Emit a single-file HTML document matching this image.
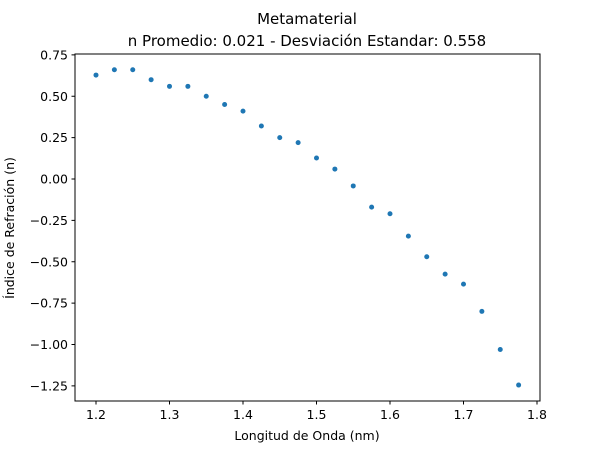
<!DOCTYPE html>
<html><head><meta charset="utf-8"><style>
body{margin:0;background:#fff;}
svg{display:block;font-family:"DejaVu Sans","Liberation Sans",sans-serif;}
</style></head><body>
<svg id="chart" width="600" height="450">
<text x="307" y="24" font-size="15" text-anchor="middle">Metamaterial</text>
<text x="307" y="46" font-size="15" text-anchor="middle">n Promedio: 0.021 - Desviación Estandar: 0.558</text>
<g id="xt"></g>
<g id="yt"></g>
<g id="pts"></g>
<rect x="75" y="54" width="465" height="347" fill="none" stroke="#000" stroke-width="1"/>
<text x="307" y="440" font-size="12.5" text-anchor="middle">Longitud de Onda (nm)</text>
<text transform="translate(14,228) rotate(-90)" font-size="12.5" text-anchor="middle">Índice de Refración (n)</text>
</svg>
<script>
const xs=[1.2,1.225,1.25,1.275,1.3,1.325,1.35,1.375,1.4,1.425,1.45,1.475,1.5,1.525,1.55,1.575,1.6,1.625,1.65,1.675,1.7,1.725,1.75,1.775];
const ys=[0.628,0.66,0.66,0.60,0.56,0.56,0.50,0.45,0.41,0.32,0.25,0.22,0.127,0.06,-0.042,-0.17,-0.21,-0.345,-0.47,-0.575,-0.635,-0.80,-1.03,-1.245];
const xTicks=[1.2,1.3,1.4,1.5,1.6,1.7,1.8];
const xTickLabels=["1.2","1.3","1.4","1.5","1.6","1.7","1.8"];
const yTicks=[0.75,0.5,0.25,0,-0.25,-0.5,-0.75,-1,-1.25];
const yTickLabels=["0.75","0.50","0.25","0.00","−0.25","−0.50","−0.75","−1.00","−1.25"];
const ns="http://www.w3.org/2000/svg";
const X=v=>96+(v-1.2)*735;
const Y=v=>179-v*165.5;
function mk(t,a,p){const e=document.createElementNS(ns,t);for(const k in a)e.setAttribute(k,a[k]);p.appendChild(e);return e;}
const xt=document.getElementById('xt'),yt=document.getElementById('yt'),pts=document.getElementById('pts');
xTicks.forEach((v,i)=>{
 const l=mk('line',{x1:X(v),x2:X(v),y1:401,y2:404.5,stroke:'#000'},xt);
 
 
 const t=mk('text',{x:X(v),y:419,'font-size':12.5,'text-anchor':'middle'},xt);t.textContent=xTickLabels[i];
 
 
});
yTicks.forEach((v,i)=>{
 const l=mk('line',{x1:71.5,x2:75,y1:Y(v),y2:Y(v),stroke:'#000'},yt);
 
 
 const t=mk('text',{x:68,y:Y(v)+4.5,'font-size':12.5,'text-anchor':'end'},yt);t.textContent=yTickLabels[i];
 
 
});
xs.forEach((v,i)=>{
 const c=mk('circle',{cx:X(v),cy:Y(ys[i]),r:2.5,fill:'#1f77b4'},pts);
 
 
});
</script>
</body></html>
